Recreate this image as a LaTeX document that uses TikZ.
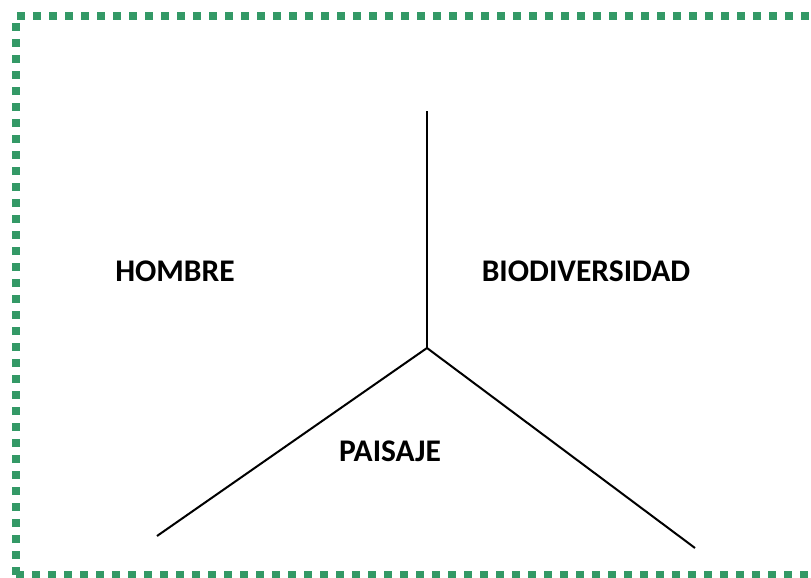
\documentclass[tikz,border=0pt]{standalone}
\usepackage{fontspec}
\setmainfont{Carlito}
\definecolor{framegreen}{RGB}{51,153,102}
\begin{document}
\begin{tikzpicture}[x=1pt,y=-1pt,
  lbl/.style={font=\bfseries\fontsize{31.5}{36}\selectfont, inner sep=0pt},
  frameline/.style={draw=framegreen, line width=8pt, dash pattern=on 8pt off 8pt},
  stroke/.style={draw=black, line width=2pt}]
\useasboundingbox (0,0) rectangle (811,578);
\draw[frameline] (16,575) -- (16,16) -- (830,16);
\draw[frameline] (16,575) -- (830,575);
\coordinate (top) at (427,111);
\coordinate (mid) at (427,348);
\coordinate (lend) at (157,536);
\coordinate (rend) at (695,548);
\draw[stroke] (top) -- (mid);
\draw[stroke] (lend) -- (mid) -- (rend);
\node[lbl] (hombre) at (175,271) {HOMBRE};
\node[lbl] (bio) at (586,271) {BIODIVERSIDAD};
\node[lbl] (paisaje) at (390,451) {PAISAJE};
\end{tikzpicture}
\end{document}
